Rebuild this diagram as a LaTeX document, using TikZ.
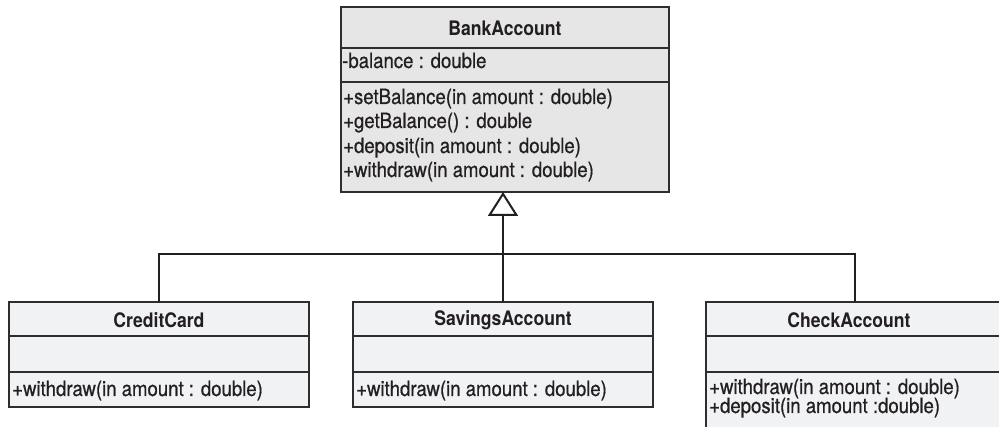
\documentclass[tikz,border=0pt]{standalone}
\usepackage{fontspec}
\setmainfont{TeX Gyre Heros}[FakeStretch=0.885, FakeBold=0.6]
\newfontfamily\classfont{TeX Gyre Heros}[FakeStretch=0.88]
\usetikzlibrary{arrows.meta}

\definecolor{ink}{HTML}{231F20}
\definecolor{boxline}{HTML}{2E2E2E}
\definecolor{bankgray}{HTML}{E6E6E7}
\definecolor{subgray}{HTML}{F1F2F4}

\tikzset{
  box/.style={draw=boxline, line width=1.5pt, anchor=north west,
              inner sep=0pt, outer sep=0pt},
  bankbox/.style={box, fill=bankgray},
  subbox/.style={box, fill=subgray},
  member/.style={anchor=west, inner sep=0pt, text=ink,
                 text height=13.5pt, text depth=3.5pt,
                 font=\fontsize{21}{23}\selectfont},
  classname/.style={inner sep=0pt, text=ink,
                    font=\classfont\fontsize{20}{22}\selectfont\bfseries},
  link/.style={draw=ink, line width=2pt},
}

\begin{document}
\begin{tikzpicture}[x=1pt,y=-1pt]
\useasboundingbox (0,0) rectangle (999,427);
\clip (0,0) rectangle (999,427);

% ---- BankAccount ----
\node[bankbox, minimum width=328pt, minimum height=41pt] (bank) at (341,7) {};
\node[bankbox, minimum width=328pt, minimum height=34pt] (bankA) at (341,48) {};
\node[bankbox, minimum width=328pt, minimum height=110pt] (bankM) at (341,82) {};
\node[classname] (bankT) at (505,28) {BankAccount};
\node[member] (bankA1) at (342,63) {-balance : double};
\node[member] (bankM1) at (343,99) {+setBalance(in amount : double)};
\node[member] (bankM2) at (343,123) {+getBalance() : double};
\node[member] (bankM3) at (343,148) {+deposit(in amount : double)};
\node[member] (bankM4) at (343,172) {+withdraw(in amount : double)};

% ---- CreditCard ----
\node[subbox, minimum width=300pt, minimum height=34pt] (credit) at (9,302) {};
\node[subbox, minimum width=300pt, minimum height=36pt] (creditA) at (9,336) {};
\node[subbox, minimum width=300pt, minimum height=35pt] (creditM) at (9,372) {};
\node[classname] (creditT) at (159,320) {CreditCard};
\node[member] (creditM1) at (12,391) {+withdraw(in amount : double)};

% ---- SavingsAccount ----
\node[subbox, minimum width=300pt, minimum height=34pt] (savings) at (353,302) {};
\node[subbox, minimum width=300pt, minimum height=36pt] (savingsA) at (353,336) {};
\node[subbox, minimum width=300pt, minimum height=35pt] (savingsM) at (353,372) {};
\node[classname] (savingsT) at (503,320) {SavingsAccount};
\node[member] (savingsM1) at (356,391) {+withdraw(in amount : double)};

% ---- CheckAccount ----
\node[subbox, minimum width=298pt, minimum height=34pt] (check) at (706,302) {};
\node[subbox, minimum width=298pt, minimum height=36pt] (checkA) at (706,336) {};
\node[subbox, minimum width=298pt, minimum height=70pt] (checkM) at (706,372) {};
\node[classname] (checkT) at (849,320) {CheckAccount};
\node[member] (checkM1) at (709,389) {+withdraw(in amount : double)};
\node[member] (checkM2) at (709,408) {+deposit(in amount :double)};

% ---- generalization ----
\coordinate (j) at (503,254);
\draw[link] (credit.north) |- (j) -| (check.north);
\draw[link, -{Triangle[open, length=24pt, width=30pt, line width=2pt, fill=white]}]
  (savings.north) -- (savings.north |- bankM.south);
\end{tikzpicture}
\end{document}
